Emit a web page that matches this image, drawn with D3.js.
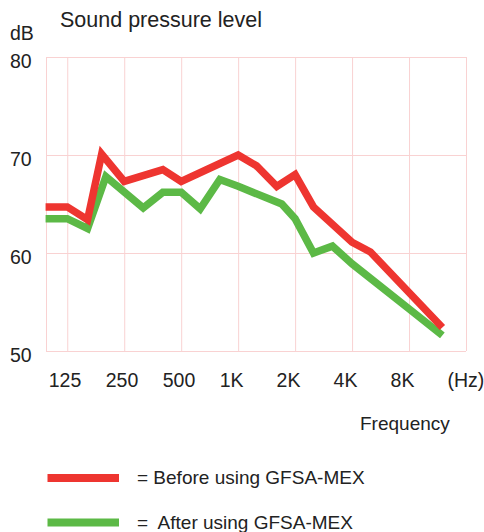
<!DOCTYPE html>
<html>
<head>
<meta charset="utf-8">
<script src="https://cdn.jsdelivr.net/npm/d3@7"></script>
<style>
  body { margin: 0; background: #fff; }
  text { font-family: "Liberation Sans", Arial, sans-serif; fill: #222; }
</style>
</head>
<body>
<div id="chart"></div>
<script>
// Data (frequency in Hz, level in dB)
const tickFreqs = [125, 250, 500, 1000, 2000, 4000, 8000, 16000];
const tickLabels = ['125', '250', '500', '1K', '2K', '4K', '8K', '(Hz)'];
const dbTicks = [50, 60, 70, 80];

const beforeFreq = [96, 125, 160, 190, 250, 400, 500, 1000, 1250, 1600, 2000, 2500, 4000, 5000, 12000];
const beforeDb   = [64.7, 64.7, 63.4, 70.1, 67.3, 68.5, 67.3, 70.0, 68.9, 66.8, 68.0, 64.7, 61.1, 60.1, 52.4];

const afterFreq = [96, 125, 160, 200, 315, 400, 500, 630, 800, 1000, 1700, 2000, 2500, 3150, 4000, 8000, 12000];
const afterDb   = [63.5, 63.5, 62.5, 67.8, 64.6, 66.2, 66.2, 64.5, 67.5, 66.8, 65.0, 63.5, 60.0, 60.7, 58.9, 54.3, 51.6];

const seriesNames = ['= Before using GFSA-MEX', '=  After using GFSA-MEX'];
const seriesColors = ['#ee3530', '#5cb946'];

const width = 484, height = 532;
const margin = { top: 57, left: 46, right: 18, bottom: 181 };
const plotW = width - margin.left - margin.right;
const plotH = height - margin.top - margin.bottom;

const svg = d3.select('#chart').append('svg')
  .attr('width', width)
  .attr('height', height);

const g = svg.append('g')
  .attr('transform', `translate(${margin.left},${margin.top})`);

const x = d3.scaleLog().base(2)
  .domain([96.5, 16000])
  .range([0, plotW]);

const y = d3.scaleLinear()
  .domain([50, 80])
  .range([plotH, 0]);

const gridColor = '#f9d2d2';

// grid lines
g.append('g')
  .attr('class', 'x-grid')
  .call(d3.axisBottom(x).tickValues([96.5].concat(tickFreqs)).tickSize(plotH).tickFormat(''))
  .call(s => s.select('.domain').remove())
  .selectAll('line').attr('stroke', gridColor);

g.append('g')
  .attr('class', 'y-grid')
  .call(d3.axisLeft(y).tickValues(dbTicks).tickSize(-plotW).tickFormat(''))
  .call(s => s.select('.domain').remove())
  .selectAll('line').attr('stroke', gridColor);

// x labels
g.append('g')
  .attr('class', 'x-axis')
  .attr('transform', `translate(0,${plotH})`)
  .call(d3.axisBottom(x).tickValues(tickFreqs).tickSize(0).tickFormat((d, i) => tickLabels[i]))
  .call(s => s.select('.domain').remove())
  .selectAll('text')
  .attr('text-anchor', 'start')
  .attr('dx', -19)
  .attr('y', 36)
  .attr('dy', 0)
  .attr('fill', '#222')
  .style('font-size', '19.5px')
  .style('font-family', '"Liberation Sans", Arial, sans-serif');

// y labels
g.append('g')
  .attr('class', 'y-axis')
  .call(d3.axisLeft(y).tickValues(dbTicks).tickSize(0))
  .call(s => s.select('.domain').remove())
  .selectAll('text')
  .attr('text-anchor', 'start')
  .attr('x', 10 - margin.left)
  .attr('dy', 10.5)
  .attr('fill', '#222')
  .style('font-size', '19.5px')
  .style('font-family', '"Liberation Sans", Arial, sans-serif');

// lines
const line = d3.line()
  .x(d => x(d[0]))
  .y(d => y(d[1]));

const series = [
  d3.zip(afterFreq, afterDb),
  d3.zip(beforeFreq, beforeDb)
];
const seriesColorOrder = [seriesColors[1], seriesColors[0]];

g.selectAll('.series')
  .data(series)
  .enter().append('path')
  .attr('class', 'series')
  .attr('d', line)
  .attr('fill', 'none')
  .attr('stroke', (d, i) => seriesColorOrder[i])
  .attr('stroke-width', 7.5)
  .attr('stroke-linejoin', 'miter');

// titles
svg.append('text')
  .attr('x', 60).attr('y', 27)
  .style('font-size', '21.5px')
  .text('Sound pressure level');

svg.append('text')
  .attr('x', 10).attr('y', 40)
  .style('font-size', '19.5px')
  .text('dB');

svg.append('text')
  .attr('x', 360).attr('y', 430)
  .style('font-size', '19px')
  .text('Frequency');

// legend
const legend = svg.selectAll('.legend')
  .data(seriesNames)
  .enter().append('g')
  .attr('class', 'legend')
  .attr('transform', (d, i) => `translate(0,${478 + i * 44.5})`);

legend.append('line')
  .attr('x1', 47.5).attr('x2', 119)
  .attr('y1', 0).attr('y2', 0)
  .attr('stroke', (d, i) => seriesColors[i])
  .attr('stroke-width', 8);

legend.append('text')
  .attr('x', 137).attr('y', 6)
  .style('font-size', '19px')
  .style('white-space', 'pre')
  .text(d => d);
</script>
</body>
</html>
